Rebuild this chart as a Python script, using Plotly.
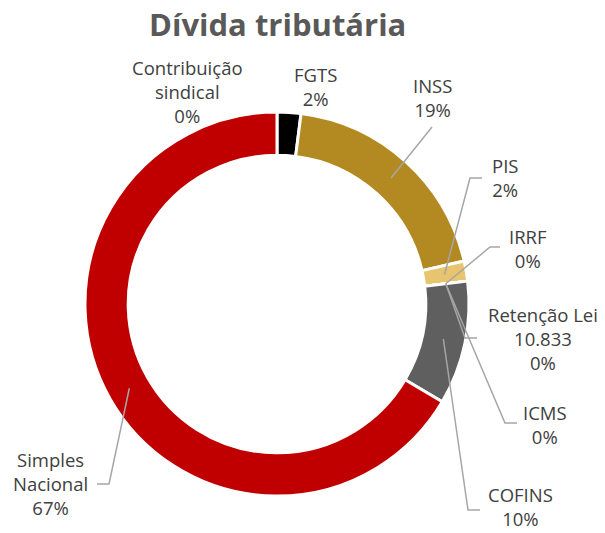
import math
import plotly.graph_objects as go

W, H = 605, 533

# Dados (sentido horário a partir das 12h)
categorias = [
    "Contribuição sindical", "FGTS", "INSS", "PIS", "IRRF",
    "Retenção Lei 10.833", "ICMS", "COFINS", "Simples Nacional",
]
valores = [0.0, 2.0, 19.4, 1.7, 0.0, 0.0, 0.0, 10.4, 66.5]
rotulos = [
    "Contribuição<br>sindical<br>0%", "FGTS<br>2%", "INSS<br>19%", "PIS<br>2%",
    "IRRF<br>0%", "Retenção Lei<br>10.833<br>0%", "ICMS<br>0%", "COFINS<br>10%",
    "Simples<br>Nacional<br>67%",
]
cores = ["#C00000", "#000000", "#B38922", "#E9C46E", "#E9C46E",
         "#5F5F5F", "#5F5F5F", "#5F5F5F", "#C00000"]

# Layout (pixels)
CX, CY, R = 277, 304, 192
label_pos = [(187, 91), (315, 86), (432, 97), (505, 177), (528, 248),
             (543, 338), (545, 424), (520, 506), (50, 483)]
# (cotovelo, fim) da linha guia, None = sem linha
guias = [None, None, ((432, 127), None), ((470, 178), (482, 178)),
         ((490, 247), (500, 247)), ((465, 338), (477, 338)),
         ((505, 423), (517, 423)), ((468, 510), (480, 510)),
         ((109, 484), (97, 484))]


def px(x, y):
    return x / W, 1 - y / H


fig = go.Figure(
    go.Pie(
        labels=categorias,
        values=valores,
        sort=False,
        direction="clockwise",
        rotation=0,
        hole=0.775,
        textinfo="none",
        marker=dict(colors=cores, line=dict(color="white", width=3)),
        domain=dict(x=[px(CX - R, 0)[0], px(CX + R, 0)[0]],
                    y=[px(0, CY + R)[1], px(0, CY - R)[1]]),
        showlegend=False,
        hoverinfo="label+percent",
    )
)

total = sum(valores)
acum = 0.0
shapes = []
annotations = []
for i, v in enumerate(valores):
    meio = (acum + v / 2) / total * 2 * math.pi
    acum += v
    ax, ay = px(*label_pos[i])
    annotations.append(dict(
        x=ax, y=ay, xref="paper", yref="paper", text=rotulos[i],
        showarrow=False, xanchor="center", yanchor="middle",
        font=dict(size=18.5, color="#404040"),
    ))
    if guias[i] is None:
        continue
    r0 = 170
    sx, sy = CX + r0 * math.sin(meio), CY - r0 * math.cos(meio)
    pts = [(sx, sy), guias[i][0]]
    if guias[i][1] is not None:
        pts.append(guias[i][1])
    path = "M " + " L ".join(
        f"{px(*p)[0]:.5f},{px(*p)[1]:.5f}" for p in pts)
    shapes.append(dict(type="path", path=path, xref="paper", yref="paper",
                       line=dict(color="#A6A6A6", width=1.5)))

tx, ty = px(CX, 24)
annotations.append(dict(
    x=tx, y=ty, xref="paper", yref="paper",
    text="<b>Dívida tributária</b>", showarrow=False,
    xanchor="center", yanchor="middle",
    font=dict(size=31, color="#595959"),
))

fig.update_layout(
    width=W, height=H,
    margin=dict(l=0, r=0, t=0, b=0),
    paper_bgcolor="white",
    font=dict(family="Open Sans, sans-serif"),
    shapes=shapes,
    annotations=annotations,
)

# tirar a margem padrão do body para o gráfico ocupar a janela inteira
fig.write_html("out.html", config={"displayModeBar": False},
               post_script="document.body.style.margin='0';")
